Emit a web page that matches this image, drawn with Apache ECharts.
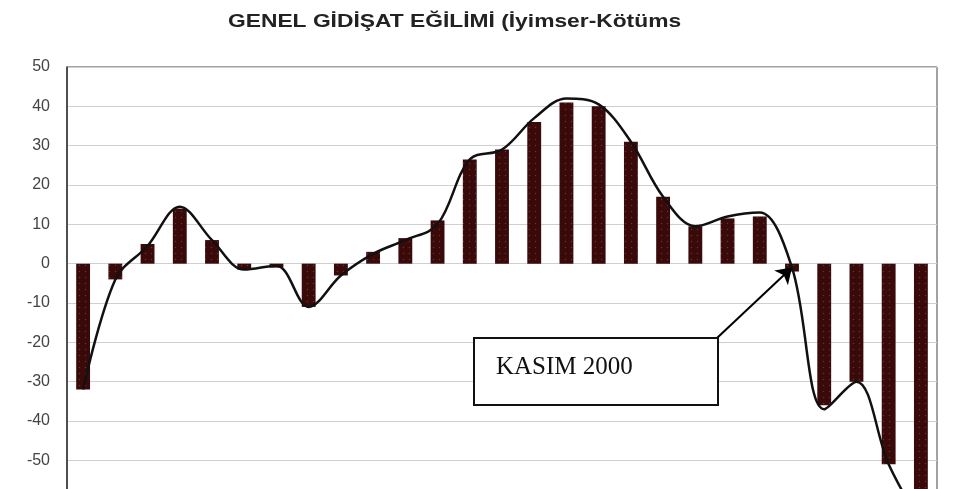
<!DOCTYPE html>
<html>
<head>
<meta charset="utf-8">
<script src="https://cdn.jsdelivr.net/npm/echarts@6/dist/echarts.min.js"></script>
<style>
html,body{margin:0;padding:0;background:#fff;overflow:hidden;}
#chart{width:967px;height:547px;}
</style>
</head>
<body>
<div id="chart"></div>
<script>
const titleText = 'GENEL GİDİŞAT EĞİLİMİ (İyimser-Kötüms';
const categories = ['1','2','3','4','5','6','7','8','9','10','11','12','13','14','15','16','17','18','19','20','21','22','23','24','25','26','27'];
const barValues = [-32, -4, 5, 14, 6, -1.5, -1, -11, -3, 3, 6.5, 11, 26.5, 29, 36, 41, 40, 31, 17, 9.5, 11.5, 12, -2, -36, -30, -51, -60];
const lineValues = [-32, -4, 4.5, 14.5, 6, -1.5, -0.5, -11, -3, 2.5, 6, 10, 26.5, 29, 37, 42, 40.5, 31, 17, 9.5, 12, 13, -1, -37, -30, -51, -66];
const annotationText = 'KASIM 2000';
const annotationIndex = 22;
const annotationValue = -1;

const chart = echarts.init(document.getElementById('chart'), null, {renderer:'canvas'});
chart.setOption({
  animation: false,
  backgroundColor: '#ffffff',
  grid: {left: 67, right: 30, top: 67, bottom: 0, show: true, borderColor: '#444', borderWidth: 1, backgroundColor: 'transparent'},
  xAxis: {
    type: 'category', data: categories,
    axisLine: {show: false}, axisTick: {show: false}, axisLabel: {show: false}, splitLine: {show: false}
  },
  yAxis: {
    type: 'value', min: -70, max: 50, interval: 10,
    axisLine: {show: true, lineStyle: {color: '#333', width: 1.5}},
    axisTick: {show: false},
    axisLabel: {margin: 17, fontSize: 16, color: '#444', fontFamily: 'Liberation Sans, Arial, sans-serif', padding: [0,0,12,0]},
    splitLine: {show: true, lineStyle: {color: '#cfcfcf', width: 1}}
  },
  series: [
    {
      type: 'bar', data: barValues, barWidth: '43%',
      itemStyle: {
        color: '#3a0909',
        decal: {symbol: 'circle', symbolSize: 0.5, dashArrayX: [[3, 3]], dashArrayY: [3, 3], color: 'rgba(160,85,85,0.5)', rotation: 0}
      },
      z: 2
    },
    {
      type: 'line', data: lineValues, smooth: 0.35, symbol: 'none',
      lineStyle: {color: '#111', width: 2.5},
      z: 3,
      markLine: {
        silent: true,
        z: 5,
        symbol: ['none', 'arrow'], symbolSize: 15,
        label: {show: false},
        lineStyle: {color: '#000', width: 2, type: 'solid'},
        data: [[{x: 717, y: 338}, {coord: [annotationIndex, annotationValue]}]]
      }
    }
  ],
  graphic: [
    {type: 'text', x: 228, y: 22, scaleX: 1.2, style: {text: titleText, fontFamily: 'Liberation Sans, Arial, sans-serif', fontSize: 19, fontWeight: 'bold', fill: '#222', verticalAlign: 'middle'}, z: 11},
    {type: 'rect', shape: {x: 474, y: 338, width: 244, height: 67}, style: {fill: '#fff', stroke: '#111', lineWidth: 2}, z: 10},
    {type: 'text', x: 496, y: 367, style: {text: annotationText, fontFamily: 'Liberation Serif, Times New Roman, serif', fontSize: 25, fill: '#111', verticalAlign: 'middle'}, z: 11}
  ]
});
</script>
</body>
</html>
